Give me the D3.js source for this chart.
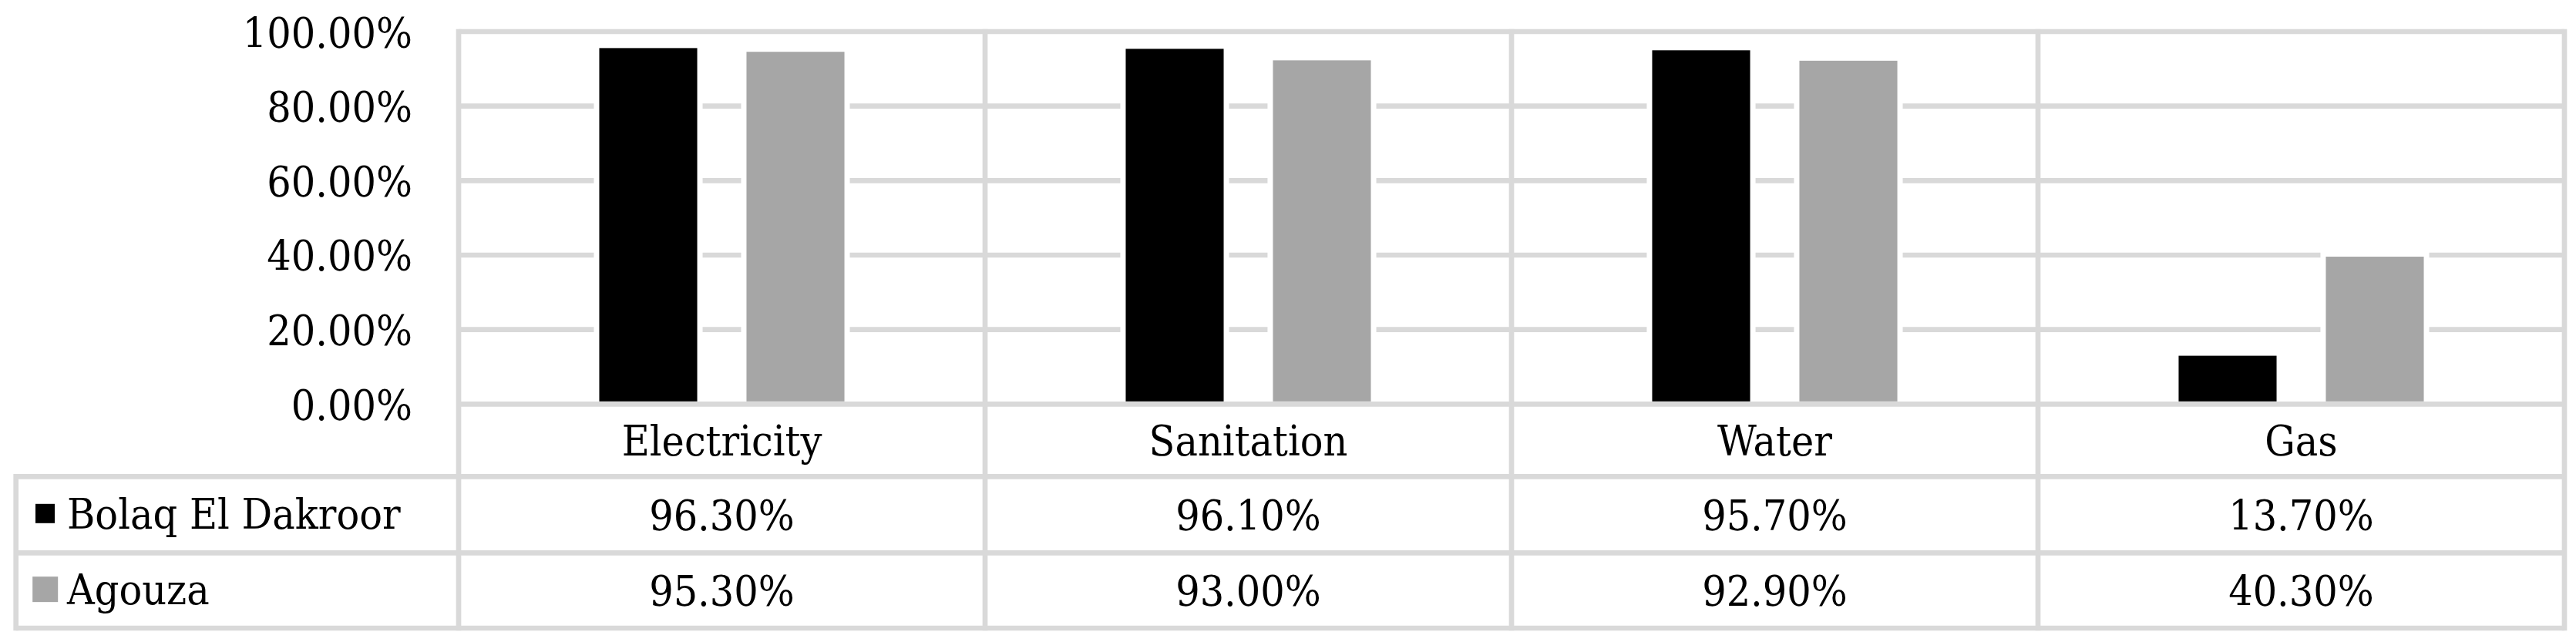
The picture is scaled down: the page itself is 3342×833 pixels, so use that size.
<!DOCTYPE html>
<html>
<head>
<meta charset="utf-8">
<script src="https://cdn.jsdelivr.net/npm/d3@7"></script>
<style>
  html, body { margin: 0; padding: 0; background: #ffffff; }
  svg { display: block; }
</style>
</head>
<body>
<svg id="chart" width="3342" height="833"></svg>
<script>
const categories = ["Electricity", "Sanitation", "Water", "Gas"];
const seriesNames = ["Bolaq El Dakroor", "Agouza"];
const bolaqValues = [0.963, 0.961, 0.957, 0.137];
const agouzaValues = [0.953, 0.930, 0.929, 0.403];
const yTicks = [0, 0.2, 0.4, 0.6, 0.8, 1.0];
const seriesColors = ["#000000", "#a6a6a6"];

const series = [bolaqValues, agouzaValues];
const W = 3342, H = 833;
const plotLeft = 595, plotRight = 3327, plotTop = 41, plotBottom = 524.3;
const rowBounds = [524.3, 618.3, 717.3, 815];
const tableLeft = 20.7;
const gridColor = "#d9d9d9";
const gridW = 6.7;
const fontSize = 55;
const sx = 0.9;
const baseOff = 20;
const FONT = "'DejaVu Serif', 'Liberation Serif', serif";

const svg = d3.select("#chart");
svg.append("rect").attr("width", W).attr("height", H).attr("fill", "#fff");

const x = d3.scaleBand().domain(categories).range([plotLeft, plotRight]).paddingInner(0).paddingOuter(0);
const xs = d3.scaleBand().domain(d3.range(series.length)).range([0, x.bandwidth()])
  .paddingInner(0.298).paddingOuter(0.937);
const y = d3.scaleLinear().domain([0, 1]).range([plotBottom, plotTop]);
const fmt = d3.format(".2%");

function styleText(sel) {
  return sel.style("font-family", FONT).style("font-size", fontSize + "px").attr("fill", "#000");
}

// horizontal gridlines
svg.append("g").selectAll("line").data(yTicks.filter(t => t > 0)).join("line")
  .attr("x1", plotLeft).attr("x2", plotRight)
  .attr("y1", d => y(d)).attr("y2", d => y(d))
  .attr("stroke", gridColor).attr("stroke-width", gridW);

// y axis labels
const yAxis = d3.axisLeft(y).tickValues(yTicks).tickFormat(fmt).tickSize(0).tickPadding(60);
const gy = svg.append("g").attr("transform", `translate(${plotLeft},0)`).call(yAxis);
gy.attr("font-family", null).attr("font-size", null);
gy.select(".domain").remove();
styleText(gy.selectAll("text"))
  .attr("dy", null).attr("x", 0).attr("y", 0)
  .attr("transform", `translate(-60,${baseOff}) scale(${sx},1)`);

// bars
const barData = [];
categories.forEach((c, i) => series.forEach((s, j) => barData.push({ c, j, v: s[i] })));
svg.append("g").selectAll("rect").data(barData).join("rect")
  .attr("x", d => x(d.c) + xs(d.j))
  .attr("width", xs.bandwidth())
  .attr("y", d => y(d.v))
  .attr("height", d => y(0) - y(d.v))
  .attr("fill", d => seriesColors[d.j])
  .attr("stroke", "#ffffff").attr("stroke-width", 7);

// table lines
const lines = svg.append("g").attr("stroke", gridColor).attr("stroke-width", gridW);
lines.append("line").attr("x1", plotLeft).attr("x2", plotRight).attr("y1", rowBounds[0]).attr("y2", rowBounds[0]);
rowBounds.slice(1).forEach(yy => {
  lines.append("line").attr("x1", tableLeft).attr("x2", plotRight).attr("y1", yy).attr("y2", yy);
});
const vx = categories.map(c => x(c)).concat([plotRight]);
vx.forEach(xx => {
  lines.append("line").attr("x1", xx).attr("x2", xx).attr("y1", plotTop - gridW / 2).attr("y2", rowBounds[3] + gridW / 2);
});
lines.append("line").attr("x1", tableLeft).attr("x2", tableLeft).attr("y1", rowBounds[1] - gridW / 2).attr("y2", rowBounds[3] + gridW / 2);

// category labels
styleText(svg.append("g").selectAll("text").data(categories).join("text"))
  .attr("text-anchor", "middle")
  .attr("transform", d => `translate(${x(d) + x.bandwidth() / 2},${(rowBounds[0] + rowBounds[1]) / 2 + baseOff}) scale(${sx},1)`)
  .text(d => d);

// table values
series.forEach((s, j) => {
  const cy = (rowBounds[j + 1] + rowBounds[j + 2]) / 2;
  styleText(svg.append("g").selectAll("text").data(s).join("text"))
    .attr("text-anchor", "middle")
    .attr("transform", (d, i) => `translate(${x(categories[i]) + x.bandwidth() / 2},${cy + baseOff}) scale(${sx},1)`)
    .text(d => fmt(d));
});

// legend keys
const keySizes = [25, 33];
const keyCx = [58.5, 58.7];
seriesNames.forEach((name, j) => {
  const cy = (rowBounds[j + 1] + rowBounds[j + 2]) / 2;
  const k = keySizes[j];
  svg.append("rect").attr("x", keyCx[j] - k / 2).attr("y", cy - k / 2 - 1.5).attr("width", k).attr("height", k)
    .attr("fill", seriesColors[j]);
  styleText(svg.append("text"))
    .attr("transform", `translate(87,${cy + 18}) scale(${sx},1)`)
    .text(name);
});
</script>
</body>
</html>
